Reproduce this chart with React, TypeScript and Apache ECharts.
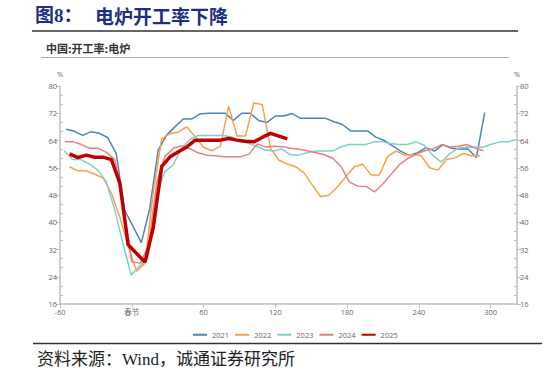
import React, { useEffect, useRef } from "react";
import * as echarts from "echarts";

// Days relative to Spring Festival (春节); weekly observations
const START_2021 = -55;
const START_2022 = -52;
const START_2023 = -56.5;
const START_2024 = -56;
const START_2025 = -52;
const WEEK = 7;

const v2021 = [67.3, 66.7, 65.5, 66.6, 66.1, 64.8, 60.2, 43.6, null, 34.0, 44.0, 61.2, 65.5, 68.0, 70.3, 70.3, 71.8, 72.0, 72.0, 72.0, 69.9, 72.0, 72.0, 69.9, 69.3, 71.2, 71.2, 71.9, 70.5, 70.5, 70.5, 70.5, 69.5, 68.7, 66.8, 66.8, 66.8, 65.0, 64.0, 62.4, 60.8, 59.7, 60.4, 61.9, 60.9, 62.8, 61.7, 61.5, 61.5, 59.0, 72.2];
const v2022 = [56.3, 55.1, 55.1, 54.1, 53.0, 48.5, 41.5, 33.0, 25.6, 28.0, 49.0, 64.5, 66.0, 66.5, 68.0, 65.1, 62.0, 61.0, 62.3, 74.1, 65.3, 65.3, 75.0, 74.6, 61.7, 58.2, 57.1, 56.3, 54.5, 50.9, 47.5, 48.0, 50.4, 53.4, 56.3, 57.0, 53.9, 53.9, 59.4, 60.9, 59.7, 59.9, 59.5, 56.0, 55.3, 58.4, 58.9, 60.2, 59.5, 59.5];
const v2023 = [61.0, 58.4, 58.4, 57.1, 55.3, 52.0, 44.0, 34.0, 24.5, 27.2, 29.5, 48.0, 54.8, 56.8, 61.7, 64.3, 65.5, 65.5, 65.5, 65.5, 65.0, 63.8, 63.2, 62.3, 61.2, 60.9, 61.5, 59.8, 59.7, 60.4, 60.9, 60.9, 60.9, 62.1, 62.8, 62.8, 62.8, 63.6, 63.6, 63.1, 62.8, 62.8, 63.6, 62.6, 59.7, 57.7, 60.0, 61.7, 62.1, 62.0, 62.0, 62.9, 63.6, 63.6, 64.3];
const v2024 = [63.6, 63.6, 62.8, 61.7, 61.7, 60.5, 58.3, 44.3, 28.3, 28.0, 33.0, 52.0, 59.5, 61.8, 62.5, 61.5, 60.3, 59.7, 59.5, 59.2, 59.2, 59.2, 60.0, 63.0, 62.1, 62.3, 62.2, 61.7, 61.4, 61.0, 60.4, 59.8, 58.8, 56.3, 51.8, 50.6, 50.5, 48.9, 51.3, 54.2, 57.0, 58.8, 60.0, 61.0, 61.6, 62.8, 62.1, 62.3, 62.8, 61.8, 61.0];
const v2025 = [60.1, 59.0, 59.7, 59.1, 59.1, 58.4, 51.5, 33.4, null, 28.3, 38.5, 56.4, 59.2, 60.7, 62.1, 64.1, 64.1, 64.1, 64.1, 64.6, 64.1, 63.8, 63.6, 64.9, 66.1, 65.3, 64.5];

const seriesNames = ["2021", "2022", "2023", "2024", "2025"];
const seriesColors = ["#4a87b6", "#f7a04b", "#80cfcb", "#ea7f80", "#c00000"];

const xTickValues = [-60, 0, 60, 120, 180, 240, 300];
const xTickLabels = ["-60", "春节", "60", "120", "180", "240", "300"];

const FONT = "'Open Sans', 'Noto Sans CJK SC', sans-serif";

function toPairs(start: number, vals: (number | null)[]) {
  return vals.map((v, i) => [start + i * WEEK, v]);
}

export default function App() {
  const ref = useRef<HTMLDivElement>(null);
  useEffect(() => {
    if (!ref.current) return;
    const chart = echarts.init(ref.current, null, { renderer: "svg" });
    const starts = [START_2021, START_2022, START_2023, START_2024, START_2025];
    const vals = [v2021, v2022, v2023, v2024, v2025];
    const axisColor = "#bfbfbf";
    const labelColor = "#666";
    const mainY = (pos: string) => ({
      type: "value",
      position: pos,
      min: 16,
      max: 80,
      interval: 8,
      name: "%",
      nameLocation: "end",
      nameGap: 8,
      nameTextStyle: { fontSize: 7.5, color: labelColor, fontFamily: FONT, align: "center" },
      splitLine: { show: false },
      axisLine: { show: true, onZero: false, lineStyle: { color: axisColor, width: 1.5 } },
      axisTick: { show: true, length: 4, lineStyle: { color: axisColor } },
      axisLabel: { fontSize: 7.5, color: labelColor, margin: 3, fontFamily: FONT },
    });
    const minorY = (pos: string) => ({
      type: "value",
      position: pos,
      min: 16,
      max: 80,
      interval: 8,
      splitLine: { show: false },
      axisLine: { show: false, onZero: false },
      axisTick: { show: false, inside: true },
      axisLabel: { show: false },
      minorTick: { show: true, splitNumber: 3, length: 3, lineStyle: { color: axisColor } },
    });
    chart.setOption({
      animation: false,
      backgroundColor: "#ffffff",
      grid: { left: 60, right: 30, top: 86, bottom: 71, containLabel: false },
      xAxis: {
        type: "value",
        min: -60,
        max: 322,
        interval: 60,
        splitLine: { show: false },
        axisLine: { onZero: false, lineStyle: { color: axisColor, width: 1.5 } },
        axisTick: { length: 4, customValues: xTickValues, lineStyle: { color: axisColor } },
        axisLabel: {
          customValues: xTickValues,
          formatter: (v: number) => {
            const i = xTickValues.indexOf(v);
            return i >= 0 ? xTickLabels[i] : "";
          },
          fontSize: 7.5,
          color: labelColor,
          margin: 4,
          fontFamily: FONT,
        },
      },
      yAxis: [mainY("left"), mainY("right"), minorY("left"), minorY("right")],
      legend: {
        data: seriesNames,
        left: 187,
        top: 326,
        itemWidth: 14,
        itemHeight: 8,
        itemGap: 5,
        itemStyle: { opacity: 0 },
        textStyle: { fontSize: 7.5, color: labelColor, fontFamily: FONT },
      },
      series: seriesNames.map((name, i) => ({
        name,
        type: "line",
        xAxisIndex: 0,
        yAxisIndex: 0,
        symbol: "none",
        connectNulls: true,
        data: toPairs(starts[i], vals[i]),
        color: seriesColors[i],
        lineStyle: { color: seriesColors[i], width: i === 4 ? 3.5 : 1.5 },
        z: 2 + i,
      })),
      graphic: [
        {
          type: "text",
          left: 35,
          top: 6,
          style: { text: "图8：", fontSize: 19, fontWeight: "bold", fill: "#1f2f80", fontFamily: "'Liberation Serif', 'Noto Sans CJK SC', serif" },
        },
        {
          type: "text",
          left: 95,
          top: 6,
          style: { text: "电炉开工率下降", fontSize: 19, fontWeight: "bold", fill: "#1f2f80", fontFamily: "'Noto Sans CJK SC', sans-serif" },
        },
        { type: "line", shape: { x1: 32, y1: 31, x2: 518, y2: 31 }, style: { stroke: "#333", lineWidth: 1.5 } },
        {
          type: "text",
          left: 46,
          top: 42,
          style: { text: "中国:开工率:电炉", fontSize: 11, fontWeight: "bold", fill: "#333", fontFamily: "'Noto Sans CJK SC', sans-serif" },
        },
        { type: "line", shape: { x1: 41, y1: 57.5, x2: 509, y2: 57.5 }, style: { stroke: "#aaa", lineWidth: 1 } },
        { type: "line", shape: { x1: 33, y1: 343.5, x2: 542, y2: 343.5 }, style: { stroke: "#333", lineWidth: 1.5 } },
        {
          type: "text",
          left: 37,
          top: 351,
          style: { text: "资料来源：Wind，诚通证券研究所", fontSize: 17, fill: "#222", fontFamily: "'Liberation Serif', 'Noto Sans CJK SC', serif" },
        },
      ],
    });
    return () => chart.dispose();
  }, []);
  return <div ref={ref} style={{ position: "absolute", left: 0, top: 0, width: 547, height: 375 }} />;
}
